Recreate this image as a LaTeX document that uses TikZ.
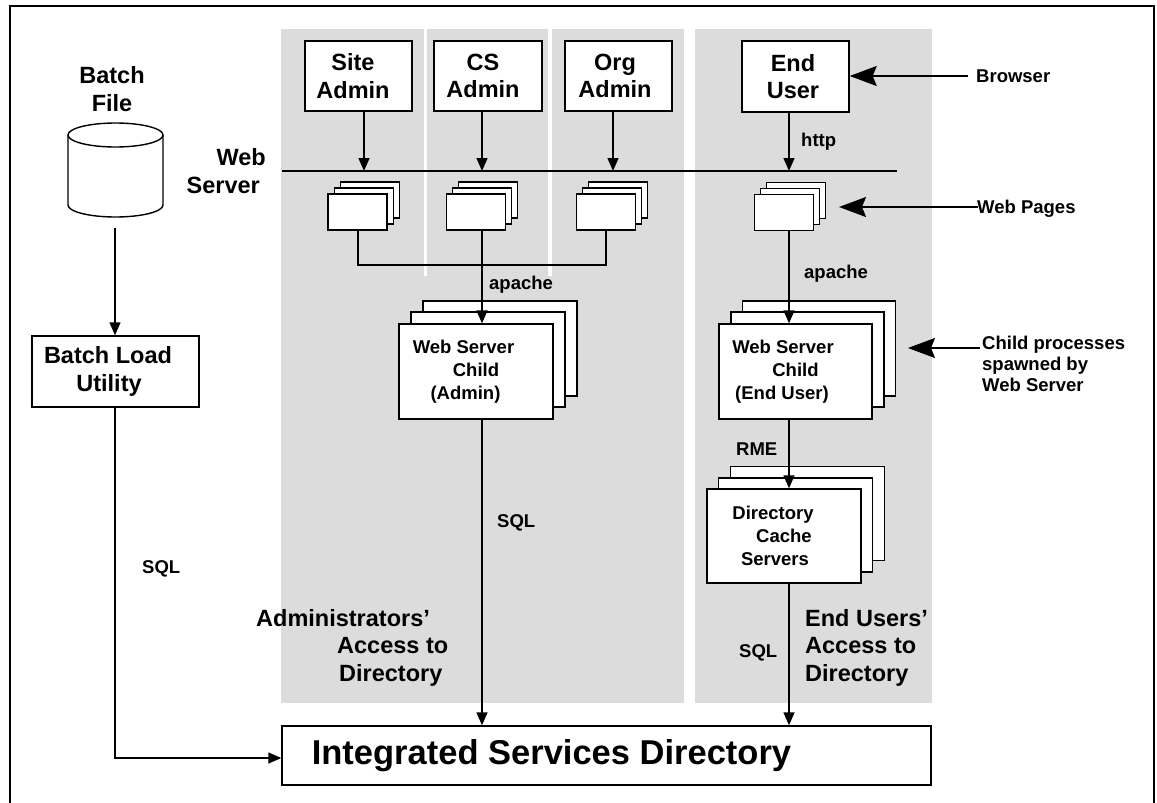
\documentclass[tikz,border=0pt]{standalone}
\usepackage{fontspec}
\setmainfont{Liberation Sans}
\usetikzlibrary{arrows.meta}
\definecolor{panelgray}{RGB}{220,220,220}
\begin{document}
\begin{tikzpicture}[x=1pt,y=-1pt,
  box/.style={draw, fill=white, line width=1.4pt, inner sep=0pt},
  bigtxt/.style={font=\fontsize{23.5}{27.5}\selectfont\bfseries, align=center},
  smalltxt/.style={font=\fontsize{18.5}{23}\selectfont\bfseries, align=center},
  isdtxt/.style={font=\fontsize{34.5}{40}\selectfont\bfseries},
  lbl/.style={font=\fontsize{18.5}{21}\selectfont\bfseries, inner sep=0pt, anchor=base west, align=left},
  biglbl/.style={bigtxt, inner sep=0pt},
  conn/.style={line width=1.4pt},
  arr/.style={conn, -{Triangle[length=13pt,width=11pt]}},
  callout/.style={conn, -{Stealth[length=27pt,width=20pt,inset=4pt]}},
  page/.style={box, minimum width=59pt, minimum height=36pt},
  child/.style={box, minimum width=154pt, minimum height=95pt},
  role/.style={box, bigtxt, minimum width=107pt, minimum height=70pt}]
\useasboundingbox (0,0) rectangle (1157,803);

% outer frame (open at the bottom edge of the sheet)
\draw[line width=2pt] (10,803) -- (10,6) -- (1154,6) -- (1154,803);

% shaded areas: administrators and end users
\fill[panelgray] (281,29) rectangle (684,703);
\fill[panelgray] (695,29) rectangle (932,703);
\fill[white] (424,29) rectangle (427,276);
\fill[white] (548,29) rectangle (552,276);

% web server boundary line
\coordinate (wsL) at (282,171);
\coordinate (wsR) at (897,171);
\draw[conn] (wsL) -- (wsR);
% multi-line captions are placed by the baseline of their last line
\node[biglbl, align=right, anchor=base east] (wslbl) at (266,193) {Web\\Server\hspace*{6pt}};

% users of the system
\node[role] (site) at (358.5,76) {Site\hspace*{11pt}\\Admin\hspace*{11pt}};
\node[role, minimum width=108pt] (cs) at (488,76) {CS\hspace*{10pt}\\Admin\hspace*{10pt}};
\node[role] (org) at (618.5,76) {Org\hspace*{7pt}\\Admin\hspace*{7pt}};
\node[role, minimum height=71pt] (eu) at (795.5,76.5) {End\hspace*{5pt}\\User\hspace*{5pt}};

% web page stacks
\node[page] (p1c) at (370,200) {};
\node[page] (p1b) at (364,206) {};
\node[page] (p1) at (357.5,212) {};
\node[page] (p2c) at (488,200) {};
\node[page] (p2b) at (482,206) {};
\node[page] (p2) at (476,212) {};
\node[page] (p3c) at (618,200) {};
\node[page] (p3b) at (612,206) {};
\node[page] (p3) at (606,212) {};
\node[page] (p4c) at (796,200.5) {};
\node[page] (p4b) at (790,206.5) {};
\node[page] (p4) at (784,212.5) {};

% web server children
\node[child] (wsac) at (500,348.5) {};
\node[child] (wsab) at (488,359.5) {};
\node[child, smalltxt] (wsa) at (476,371.5)
  {Web Server\hspace*{25pt}\\Child\hspace*{9pt}\\(Admin)\hspace*{21pt}};
\node[child, minimum width=153pt] (wsec) at (819,348.5) {};
\node[child, minimum width=153pt] (wseb) at (807.5,359.5) {};
\node[child, minimum width=153pt, smalltxt] (wse) at (795.5,371.5)
  {Web Server\hspace*{25pt}\\Child\hspace*{11pt}\\(End User)\hspace*{27pt}};

% directory cache servers
\node[child, minimum height=94pt] (dcsc) at (807.5,513.5) {};
\node[child, minimum height=94pt] (dcsb) at (795.5,525) {};
\node[child, minimum height=94pt, smalltxt] (dcs) at (784,536)
  {Directory\hspace*{22pt}\\Cache\hspace*{12pt}\\Servers\hspace*{18pt}};

% batch file store
\node[biglbl, anchor=base] (batchlbl) at (112,111) {Batch\\File};
\draw[conn] (68,135) -- (68,205) arc[start angle=180, end angle=0, x radius=47.5, y radius=12] -- (163,135);
\draw[conn] (115.5,135) ellipse[x radius=47.5, y radius=12];
\coordinate (cylout) at (115,228);

\node[box, bigtxt, minimum width=167pt, minimum height=71pt] (blu) at (115.5,371.5)
  {Batch Load\hspace*{15pt}\\Utility\hspace*{13pt}};

% the directory
\node[box, isdtxt, minimum width=649pt, minimum height=59pt] (isd) at (606.5,755.5)
  {Integrated Services Directory\hspace*{110pt}};

% column positions for the connectors
\coordinate (xs) at (364,0);
\coordinate (xc) at (482,0);
\coordinate (xo) at (613,0);
\coordinate (xe) at (789,0);
\coordinate (j1) at (358,265);
\coordinate (j2) at (482,265);
\coordinate (j3) at (606,265);
\coordinate (bl) at (115,758);

% users to the web server
\draw[arr] (site.south -| xs) -- (xs |- wsL);
\draw[arr] (cs.south -| xc) -- (xc |- wsL);
\draw[arr] (org.south -| xo) -- (xo |- wsL);
\draw[arr] (eu.south -| xe) -- (xe |- wsL);
\node[lbl] (http) at (801,146) {http};

% admin pages to the admin child
\draw[conn] (p1.south -| j1) -- (j1) -- (j3) -- (p3.south -| j3);
\draw[arr] (p2.south -| j2) -- (wsa.north -| j2);
\node[lbl] (apa) at (489,289) {apache};

% end user pages to the end user child
\draw[arr] (p4.south -| xe) -- (wse.north -| xe);
\node[lbl] (ape) at (804,278) {apache};

% children to cache and directory
\draw[arr] (wse.south -| xe) -- (dcs.north -| xe);
\node[lbl] (rme) at (736,455) {RME};
\draw[arr] (dcs.south -| xe) -- (isd.north -| xe);
\node[lbl] (sqle) at (739,657) {SQL};
\draw[arr] (wsa.south -| xc) -- (isd.north -| xc);
\node[lbl] (sqla) at (497,527) {SQL};

% batch path
\draw[arr] (cylout) -- (blu.north -| cylout);
\draw[arr] (blu.south -| bl) -- (bl) -- (isd.west |- bl);
\node[lbl] (sqlb) at (142,573) {SQL};

% access captions
\node[biglbl, align=left, anchor=base west] (admacc) at (256,681)
  {Administrators'\\\hspace*{81pt}Access to\\\hspace*{83pt}Directory};
\node[biglbl, align=left, anchor=base west] (euacc) at (805,681)
  {End Users'\\Access to\\Directory};

% callouts
\coordinate (brs) at (968,76);
\draw[callout] (brs) -- (eu.east |- brs);
\node[lbl] (browser) at (976,82) {Browser};
\coordinate (wps) at (978,207);
\coordinate (wpt) at (839,207);
\draw[callout] (wps) -- (wpt);
\node[lbl] (webpages) at (977,213) {Web Pages};
\coordinate (cps) at (980,348);
\coordinate (cpt) at (908,348);
\draw[callout] (cps) -- (cpt);
\node[lbl] (childlbl) at (982,391) {Child processes\\spawned by\\Web Server};
\end{tikzpicture}
\end{document}
